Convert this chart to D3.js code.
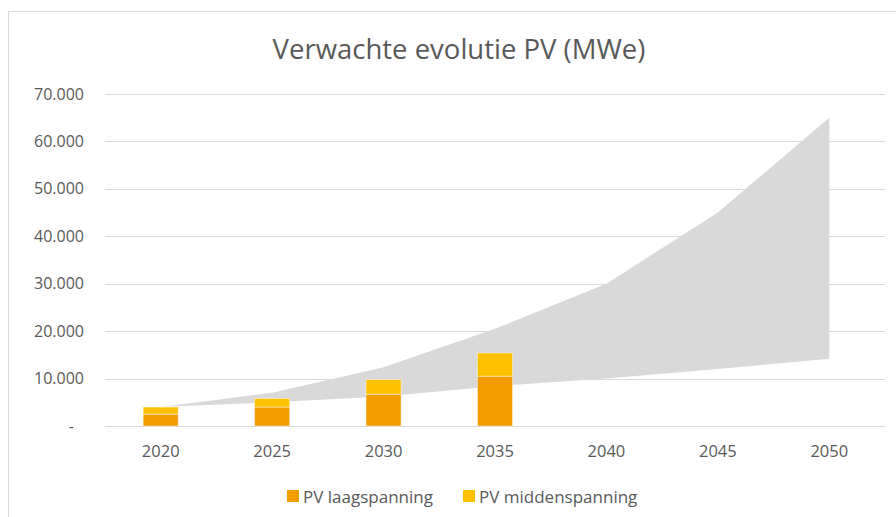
<!DOCTYPE html>
<html>
<head>
<meta charset="utf-8">
<script src="https://cdn.jsdelivr.net/npm/d3@7"></script>
<style>
  body { margin: 0; background: #fff; }
  text { font-family: "Open Sans", sans-serif; fill: #595959; }
</style>
</head>
<body>
<div id="viz"></div>
<script>
// categories
const years = ["2020", "2025", "2030", "2035", "2040", "2045", "2050"]
// stacked bars (only first four years)
const barYears = ["2020", "2025", "2030", "2035"]
const pvLaag = [2500, 4000, 6700, 10500]
const pvMidden = [1500, 1800, 3100, 4900]
// grey band: lower and upper expectation
const bandLow = [4000, 5000, 6200, 8400, 10000, 12000, 14200]
const bandHigh = [4000, 7000, 12400, 20500, 30000, 45000, 65000]
const yTicks = [0, 10000, 20000, 30000, 40000, 50000, 60000, 70000]

const width = 896
const height = 517

const svg = d3.select("#viz").append("svg")
  .attr("width", width)
  .attr("height", height)

// chart border
svg.append("rect")
  .attr("x", 8.5).attr("y", 11.5)
  .attr("width", width + 10).attr("height", height + 10)
  .attr("fill", "none")
  .attr("stroke", "#d9d9d9")

svg.append("text")
  .attr("x", 459).attr("y", 59)
  .attr("text-anchor", "middle")
  .style("font-size", "27.5px")
  .text("Verwachte evolutie PV (MWe)")

const x = d3.scaleBand()
  .domain(years)
  .range([105, 885])
  .paddingInner(0.685)
  .paddingOuter(0.3425)

const y = d3.scaleLinear()
  .domain([0, 70000])
  .range([426, 94])

const nl = d3.formatLocale({ decimal: ",", thousands: ".", grouping: [3], currency: ["€", ""] })
const fmt = d => d === 0 ? "-" : nl.format(",")(d)

// gridlines
svg.append("g")
  .selectAll("line")
  .data(yTicks)
  .join("line")
    .attr("x1", 105).attr("x2", 885)
    .attr("y1", d => Math.round(y(d)) + 0.5)
    .attr("y2", d => Math.round(y(d)) + 0.5)
    .attr("stroke", "#d9d9d9")

// y labels
const yAxis = svg.append("g")
  .attr("transform", "translate(84,0)")
  .call(d3.axisLeft(y).tickValues(yTicks).tickFormat(fmt).tickSize(0).tickPadding(0))
yAxis.select(".domain").remove()
yAxis.selectAll("text")
  .attr("dx", d => d === 0 ? -10 : 0)
  .style("font-size", "16px")
  .style("font-family", "'Open Sans', sans-serif")
  .attr("fill", "#595959")

// x labels
const xAxis = svg.append("g")
  .attr("transform", "translate(0,426)")
  .call(d3.axisBottom(x).tickSize(0).tickPadding(19))
xAxis.select(".domain").remove()
xAxis.selectAll("text")
  .style("font-size", "16.5px")
  .style("font-family", "'Open Sans', sans-serif")
  .attr("fill", "#595959")

// grey band
const cx = d => x(d) + x.bandwidth() / 2
const bandData = years.map((yr, i) => ({ yr, lo: bandLow[i], hi: bandHigh[i] }))
svg.append("path")
  .datum(bandData)
  .attr("fill", "#d9d9d9")
  .attr("d", d3.area()
    .x(d => cx(d.yr))
    .y0(d => y(d.lo))
    .y1(d => y(d.hi)))

// stacked bars
const barData = barYears.map((yr, i) => ({ yr, laag: pvLaag[i], midden: pvMidden[i] }))
const stack = d3.stack().keys(["laag", "midden"])(barData)
const colors = { laag: "#f39c00", midden: "#ffc000" }

svg.append("g")
  .selectAll("g")
  .data(stack)
  .join("g")
    .attr("fill", s => colors[s.key])
  .selectAll("rect")
  .data(s => s)
  .join("rect")
    .attr("x", d => x(d.data.yr))
    .attr("width", x.bandwidth())
    .attr("y", d => y(d[1]))
    .attr("height", d => y(d[0]) - y(d[1]))
    .attr("stroke", "#fff")
    .attr("stroke-opacity", 0.45)
    .attr("stroke-width", 1)

// legend
const legend = [
  { label: "PV laagspanning", color: colors.laag, x: 287 },
  { label: "PV middenspanning", color: colors.midden, x: 463 }
]
const lg = svg.append("g").selectAll("g")
  .data(legend)
  .join("g")
    .attr("transform", d => `translate(${d.x},490)`)
lg.append("rect")
  .attr("width", 12).attr("height", 12)
  .attr("fill", d => d.color)
lg.append("text")
  .attr("x", 16).attr("y", 12.5)
  .style("font-size", "17px")
  .text(d => d.label)
</script>
</body>
</html>
